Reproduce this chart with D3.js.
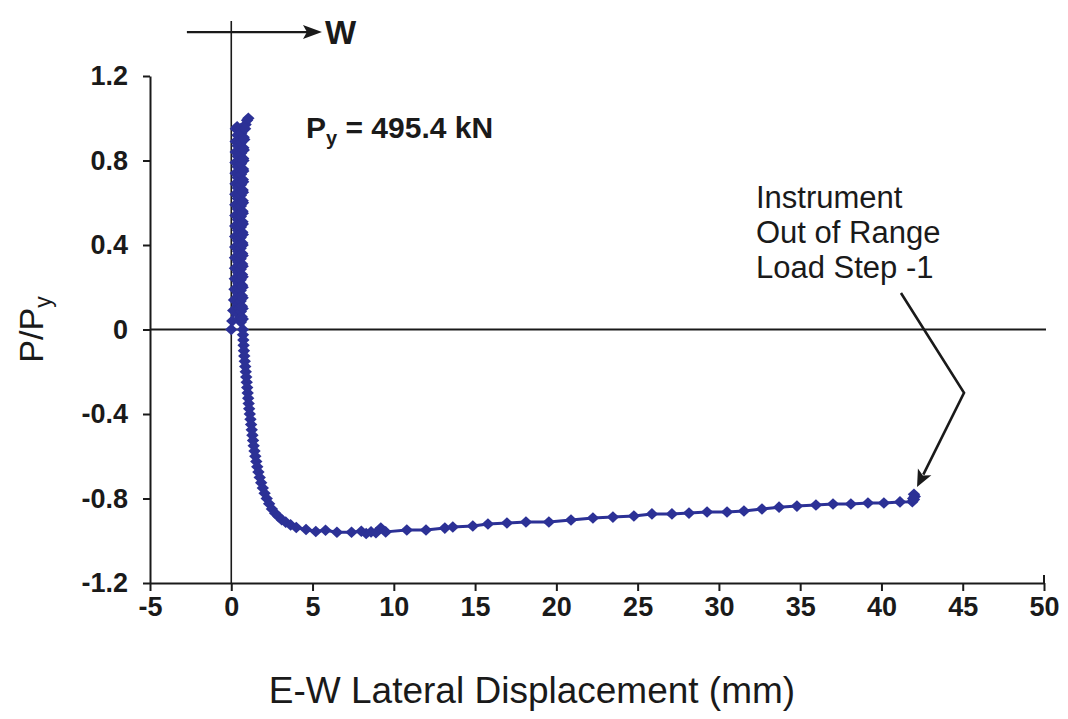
<!DOCTYPE html>
<html>
<head>
<meta charset="utf-8">
<script src="https://cdn.jsdelivr.net/npm/d3@7"></script>
<style>
  html, body { margin: 0; padding: 0; background: #fff; }
  svg { display: block; }
  text { font-family: "Liberation Sans", Arial, Helvetica, sans-serif; fill: #1a1a1a; }
</style>
</head>
<body>
<svg id="chart" width="1068" height="719"></svg>
<script>
// ---------------- data ----------------
const xTicks = [-5, 0, 5, 10, 15, 20, 25, 30, 35, 40, 45, 50];
const xTickLabels = ["-5", "0", "5", "10", "15", "20", "25", "30", "35", "40", "45", "50"];
const yTicks = [-1.2, -0.8, -0.4, 0, 0.4, 0.8, 1.2];
const yTickLabels = ["-1.2", "-0.8", "-0.4", "0", "0.4", "0.8", "1.2"];

// E-W lateral displacement (mm)
const disp = [
  // loading up (left side of spike)
  0.00, 0.06, 0.12, 0.17, 0.20, 0.22, 0.23, 0.23, 0.24, 0.24, 0.24, 0.25, 0.25, 0.25, 0.26, 0.26, 0.26, 0.27, 0.27, 0.28,
  // unloading
  0.36, 0.38, 0.38, 0.39, 0.39, 0.39, 0.40, 0.40, 0.40, 0.41, 0.41, 0.41, 0.42, 0.42, 0.42, 0.43, 0.43, 0.44, 0.44,
  // reloading
  0.48, 0.49, 0.50, 0.50, 0.51, 0.51, 0.52, 0.52, 0.53, 0.53, 0.54, 0.54, 0.55, 0.55, 0.56, 0.56, 0.57, 0.57, 0.58,
  // unloading
  0.62, 0.61, 0.61, 0.60, 0.60, 0.60, 0.59, 0.59, 0.59, 0.59, 0.58, 0.58, 0.58, 0.58, 0.58, 0.58, 0.58, 0.59, 0.59,
  // reloading to peak
  0.64, 0.65, 0.65, 0.66, 0.66, 0.67, 0.67, 0.68, 0.68, 0.69, 0.69, 0.70, 0.70, 0.71, 0.72, 0.73, 0.74, 0.76, 0.78,
  0.88, 0.97, 1.05,
  // unloading toward zero
  0.85, 0.80, 0.77, 0.75, 0.74, 0.73, 0.72, 0.72, 0.71, 0.71, 0.71, 0.70, 0.70, 0.70, 0.70, 0.70, 0.70, 0.70, 0.71, 0.71,
  // reversal into compression
  0.72, 0.74, 0.76, 0.78, 0.80, 0.83, 0.86, 0.89, 0.92, 0.95, 0.98, 1.01, 1.04, 1.07, 1.10, 1.14, 1.18, 1.22, 1.26, 1.30,
  1.34, 1.38, 1.43, 1.48, 1.54, 1.60, 1.67, 1.75, 1.84, 1.94, 2.05, 2.18, 2.33, 2.50, 2.70, 2.90, 3.10, 3.35, 3.65,
  4.00, 4.60, 5.20, 5.80, 6.50, 7.40, 8.00, 8.30, 8.60, 8.90, 9.20, 9.50,
  10.80, 11.98, 13.14, 13.63, 14.86, 15.79, 16.96, 18.13, 19.54, 20.90, 22.25, 23.48, 24.77, 25.88, 27.11, 28.16,
  29.27, 30.50, 31.54, 32.65, 33.70, 34.80, 35.97, 37.02, 38.12, 39.17, 40.15, 41.14, 41.90, 42.00, 42.05, 42.00, 41.95
];
// normalized load P/Py
const load = [
  0.00, 0.04, 0.09, 0.14, 0.19, 0.24, 0.29, 0.34, 0.39, 0.44, 0.49, 0.54, 0.59, 0.64, 0.69, 0.74, 0.79, 0.84, 0.89, 0.95,
  0.96, 0.92, 0.87, 0.82, 0.77, 0.72, 0.67, 0.62, 0.57, 0.52, 0.47, 0.42, 0.37, 0.32, 0.27, 0.22, 0.17, 0.12, 0.07,
  0.05, 0.10, 0.15, 0.20, 0.25, 0.30, 0.35, 0.40, 0.45, 0.50, 0.55, 0.60, 0.65, 0.70, 0.75, 0.80, 0.85, 0.90, 0.95,
  0.93, 0.885, 0.835, 0.785, 0.735, 0.685, 0.635, 0.585, 0.535, 0.485, 0.435, 0.385, 0.335, 0.285, 0.235, 0.185, 0.135, 0.085, 0.035,
  0.06, 0.11, 0.16, 0.21, 0.26, 0.31, 0.36, 0.41, 0.46, 0.51, 0.56, 0.61, 0.66, 0.71, 0.76, 0.81, 0.86, 0.91, 0.95,
  0.97, 0.99, 1.00,
  0.95, 0.90, 0.85, 0.80, 0.75, 0.70, 0.65, 0.60, 0.55, 0.50, 0.45, 0.40, 0.35, 0.30, 0.25, 0.20, 0.15, 0.10, 0.05, 0.00,
  -0.025, -0.05, -0.075, -0.10, -0.125, -0.15, -0.175, -0.20, -0.225, -0.25, -0.275, -0.30, -0.325, -0.35, -0.375, -0.40, -0.425, -0.45, -0.475, -0.50,
  -0.525, -0.55, -0.575, -0.60, -0.625, -0.65, -0.675, -0.70, -0.725, -0.75, -0.775, -0.80, -0.825, -0.85, -0.87, -0.885, -0.90, -0.912, -0.925,
  -0.937, -0.947, -0.956, -0.950, -0.960, -0.960, -0.955, -0.966, -0.958, -0.962, -0.940, -0.958,
  -0.949, -0.949, -0.940, -0.935, -0.930, -0.921, -0.916, -0.911, -0.911, -0.902, -0.892, -0.888, -0.883, -0.873, -0.873, -0.869,
  -0.864, -0.864, -0.859, -0.850, -0.841, -0.836, -0.831, -0.826, -0.826, -0.821, -0.821, -0.816, -0.815, -0.805, -0.790, -0.780, -0.800
];

const xTitle = "E-W Lateral Displacement (mm)";
const pyText = " = 495.4 kN";
const noteLines = ["Instrument", "Out of Range", "Load Step -1"];

// ---------------- drawing ----------------
const svg = d3.select("#chart");
const ink = "#1a1a1a";
const blue = "#2c3196";
const FONT = '"Liberation Sans", Arial, sans-serif';

const x = d3.scaleLinear().domain([-5, 50]).range([150, 1044]);
const y = d3.scaleLinear().domain([-1.2, 1.2]).range([583, 76]);

// x axis
const gx = svg.append("g").attr("transform", `translate(0,${y(-1.2)})`)
  .call(d3.axisBottom(x).tickValues(xTicks).tickSize(8).tickPadding(6).tickSizeOuter(0)
    .tickFormat((d, i) => xTickLabels[i]));
gx.select(".domain").attr("stroke", ink).attr("stroke-width", 2);
gx.selectAll(".tick line").attr("stroke", ink).attr("stroke-width", 2);
gx.selectAll(".tick text").attr("fill", ink)
  .style("font-family", FONT).style("font-size", "27px").style("font-weight", "bold");

// y axis
const gy = svg.append("g").attr("transform", `translate(${x(-5)},0)`)
  .call(d3.axisLeft(y).tickValues(yTicks).tickSize(7).tickPadding(15).tickSizeOuter(0)
    .tickFormat((d, i) => yTickLabels[i]));
gy.select(".domain").attr("stroke", ink).attr("stroke-width", 2);
gy.selectAll(".tick line").attr("stroke", ink).attr("stroke-width", 2);
gy.selectAll(".tick text").attr("fill", ink)
  .style("font-family", FONT).style("font-size", "27px").style("font-weight", "bold");

// zero reference lines
svg.append("line").attr("x1", x(-5)).attr("x2", x(50) + 2).attr("y1", y(0)).attr("y2", y(0))
  .attr("stroke", ink).attr("stroke-width", 2);
svg.append("line").attr("x1", x(0)).attr("x2", x(0)).attr("y1", y(1.46)).attr("y2", y(-1.2))
  .attr("stroke", ink).attr("stroke-width", 1.6);
// small tick crossing at right end of x axis
svg.append("line").attr("x1", x(50)).attr("x2", x(50)).attr("y1", y(-1.2) - 8).attr("y2", y(-1.2))
  .attr("stroke", ink).attr("stroke-width", 2);

// direction arrow "W"
const ay = y(1.408);
svg.append("line").attr("x1", x(-2.73)).attr("x2", x(4.9)).attr("y1", ay).attr("y2", ay)
  .attr("stroke", ink).attr("stroke-width", 2.2);
const tipX = x(5.58);
svg.append("path").attr("d", `M${tipX},${ay} L${tipX - 19},${ay - 7} L${tipX - 15},${ay} L${tipX - 19},${ay + 7} Z`)
  .attr("fill", ink);
svg.append("text").attr("x", tipX + 3).attr("y", ay + 12).attr("font-size", 33).attr("font-weight", "bold").text("W");

// data line + markers
const pts = disp.map((d, i) => [d, load[i]]);
svg.append("path").datum(pts)
  .attr("d", d3.line().x(d => x(d[0])).y(d => y(d[1])))
  .attr("fill", "none").attr("stroke", blue).attr("stroke-width", 3).attr("stroke-linejoin", "round");
svg.append("g").selectAll("path").data(pts).join("path")
  .attr("transform", d => `translate(${x(d[0])},${y(d[1])})`)
  .attr("d", "M0,-5.8 L6.2,0 L0,5.8 L-6.2,0 Z")
  .attr("fill", blue);

// Py annotation
const pyT = svg.append("text").attr("x", 306).attr("y", 138).attr("font-size", 30).attr("font-weight", "bold");
pyT.append("tspan").text("P");
pyT.append("tspan").attr("font-size", 20).attr("dy", 7).text("y");
pyT.append("tspan").attr("dy", -7).text(pyText);

// Instrument note
const note = svg.append("text").attr("x", 756).attr("font-size", 31);
noteLines.forEach((t, i) => note.append("tspan").attr("x", 756).attr("y", 208 + i * 35).text(t));

// note arrow (data coordinates)
const a0 = [x(41.2), y(0.173)], a1 = [x(45.08), y(-0.30)], a2 = [x(42.19), y(-0.746)];
const ang = Math.atan2(a2[1] - a1[1], a2[0] - a1[0]);
const back = 17, half = 7.5;
const bx = a2[0] - back * Math.cos(ang), by = a2[1] - back * Math.sin(ang);
const nx = -Math.sin(ang), ny = Math.cos(ang);
svg.append("path").attr("d", `M${a0[0]},${a0[1]} L${a1[0]},${a1[1]} L${bx + 3 * Math.cos(ang)},${by + 3 * Math.sin(ang)}`)
  .attr("fill", "none").attr("stroke", ink).attr("stroke-width", 2.6);
svg.append("path")
  .attr("d", `M${a2[0]},${a2[1]} L${bx + half * nx},${by + half * ny} L${bx + 4 * Math.cos(ang)},${by + 4 * Math.sin(ang)} L${bx - half * nx},${by - half * ny} Z`)
  .attr("fill", ink);

// axis titles
svg.append("text").attr("x", 532).attr("y", 703).attr("text-anchor", "middle")
  .attr("font-size", 37).text(xTitle);
const yt = svg.append("text").attr("transform", `translate(43,${y(0)}) rotate(-90)`).attr("text-anchor", "middle")
  .attr("font-size", 34);
yt.append("tspan").text("P/P");
yt.append("tspan").attr("font-size", 23).attr("dy", 8).text("y");
</script>
</body>
</html>
